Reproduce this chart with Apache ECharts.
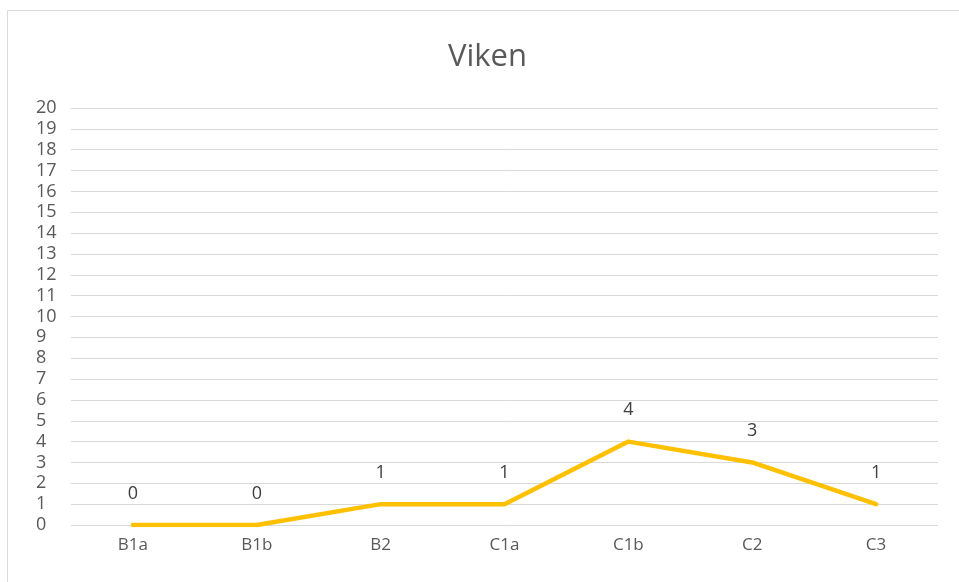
<!DOCTYPE html>
<html>
<head>
<meta charset="utf-8">
<script src="https://cdn.jsdelivr.net/npm/echarts@6/dist/echarts.min.js"></script>
<style>
  html, body { margin: 0; padding: 0; background: #fff; }
  #chart { width: 959px; height: 582px; }
</style>
</head>
<body>
<div id="chart"></div>
<script>
var categories = ['B1a', 'B1b', 'B2', 'C1a', 'C1b', 'C2', 'C3']
var values = [0, 0, 1, 1, 4, 3, 1]
var yMin = 0
var yMax = 20
var yStep = 1

var chart = echarts.init(document.getElementById('chart'))
chart.setOption({
  animation: false,
  textStyle: { fontFamily: '"Open Sans", "Noto Sans", sans-serif' },
  title: {
    text: 'Viken',
    left: 443,
    top: 37,
    textStyle: { fontSize: 31, fontWeight: 'normal', color: '#595959' }
  },
  graphic: [{
    type: 'rect',
    shape: { x: 7.5, y: 10.5, width: 960, height: 580 },
    style: { fill: 'none', stroke: '#d9d9d9', lineWidth: 1 },
    silent: true
  }],
  grid: { left: 71, right: 21, top: 108, bottom: 57 },
  xAxis: {
    type: 'category',
    data: categories,
    boundaryGap: true,
    axisLine: { show: false },
    axisTick: { show: false },
    axisLabel: { color: '#595959', fontSize: 17, margin: 12 }
  },
  yAxis: {
    type: 'value',
    min: yMin,
    max: yMax,
    interval: yStep,
    axisLine: { show: false },
    axisTick: { show: false },
    axisLabel: { color: '#595959', fontSize: 18, margin: 35, align: 'left' },
    splitLine: { lineStyle: { color: '#d9d9d9', width: 1 } }
  },
  series: [{
    type: 'line',
    data: values,
    showSymbol: true,
    symbol: 'circle',
    symbolSize: 1,
    lineStyle: { color: '#FFC000', width: 4.5, cap: 'round', join: 'round' },
    itemStyle: { color: '#FFC000' },
    label: {
      show: true,
      position: 'top',
      distance: 22,
      color: '#404040',
      fontSize: 18
    }
  }]
})
</script>
</body>
</html>
